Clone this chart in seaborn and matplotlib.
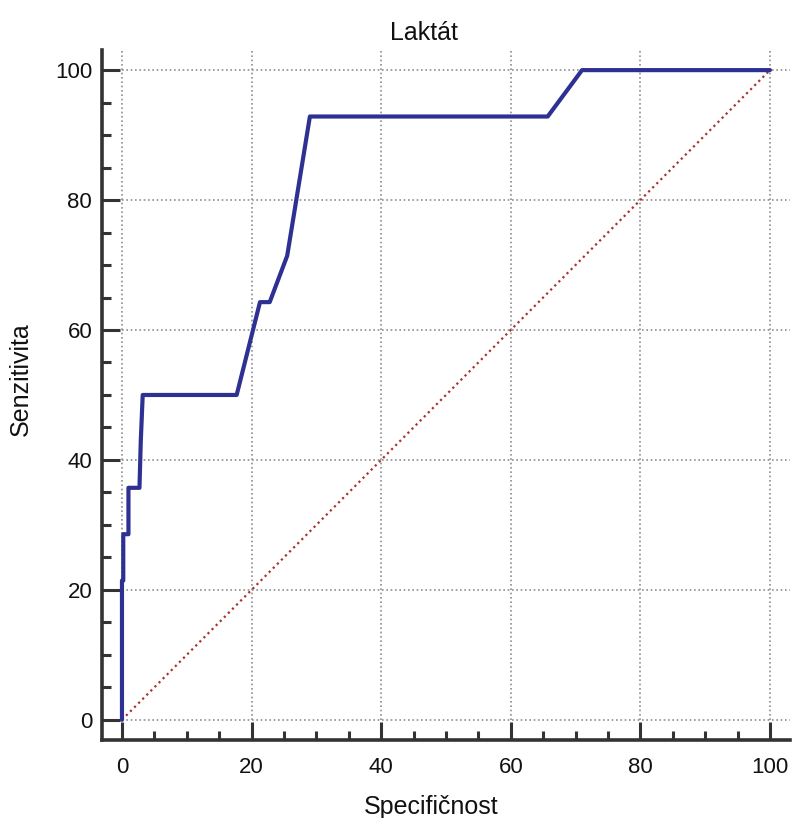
import matplotlib
matplotlib.use("Agg")
import matplotlib.pyplot as plt
import seaborn as sns
import pandas as pd
from matplotlib.ticker import MultipleLocator

# ROC curve data (Specificity on x as plotted, Sensitivity on y)
specificnost = [0, 0, 0.2, 0.2, 1.0, 1.0, 2.7, 2.9, 3.2, 17.7, 21.3, 22.8, 25.5, 29.0, 65.7, 71.0, 100]
senzitivita = [0, 21.43, 21.43, 28.57, 28.57, 35.71, 35.71, 42.86, 50, 50, 64.29, 64.29, 71.43, 92.86, 92.86, 100, 100]
diag_x = [0, 100]
diag_y = [0, 100]
ticks = [0, 20, 40, 60, 80, 100]

sns.set_style("white")
plt.rcParams['font.family'] = ['Liberation Sans', 'DejaVu Sans']

fig = plt.figure(figsize=(7.96, 8.18), dpi=100)
ax = fig.add_axes([0.128, 0.0954, 0.8645, 0.8435])

lo, hi = -3.1, 103.1
ax.set_xlim(lo, hi)
ax.set_ylim(lo, hi)

# grid (dotted, starting at 0)
for t in ticks:
    ax.plot([t, t], [0, hi], color="#8f8f8f", lw=1.2, ls=(0, (1, 1.6)), zorder=1, clip_on=False)
    ax.plot([0, hi], [t, t], color="#8f8f8f", lw=1.2, ls=(0, (1, 1.6)), zorder=1, clip_on=False)

df = pd.DataFrame({"Specifičnost": specificnost, "Senzitivita": senzitivita})
ddf = pd.DataFrame({"x": diag_x, "y": diag_y})
sns.lineplot(data=ddf, x="x", y="y", ax=ax, color="#a83232", lw=1.6,
             linestyle=(0, (1, 1.6)), sort=False, estimator=None, zorder=2)
sns.lineplot(data=df, x="Specifičnost", y="Senzitivita", ax=ax, color="#2e3192",
             lw=3.0, sort=False, estimator=None, zorder=3)

ax.set_xticks(ticks)
ax.set_yticks(ticks)
ax.xaxis.set_minor_locator(MultipleLocator(5))
ax.yaxis.set_minor_locator(MultipleLocator(5))
ax.tick_params(which="major", direction="in", length=13, width=2.2, color="#333333",
               labelsize=16, left=True, bottom=True, labelcolor="#111111")
ax.tick_params(axis="y", which="major", pad=7)
ax.tick_params(axis="x", which="major", pad=12.5)
ax.tick_params(which="minor", direction="in", length=6.5, width=2.2, color="#333333",
               left=True, bottom=True)

for s in ["top", "right"]:
    ax.spines[s].set_visible(False)
for s in ["left", "bottom"]:
    ax.spines[s].set_color("#333333")
    ax.spines[s].set_linewidth(2.6)

ax.set_xlabel("Specifičnost", fontsize=18, color="#111111")
ax.set_ylabel("Senzitivita", fontsize=18, color="#111111")
ax.xaxis.set_label_coords(0.478, -0.080)
ax.yaxis.set_label_coords(-0.100, 0.523)
ax.set_title("Laktát", fontsize=18, color="#111111", x=0.468, y=1.0145, pad=0)

fig.savefig("out.png", dpi=100)
